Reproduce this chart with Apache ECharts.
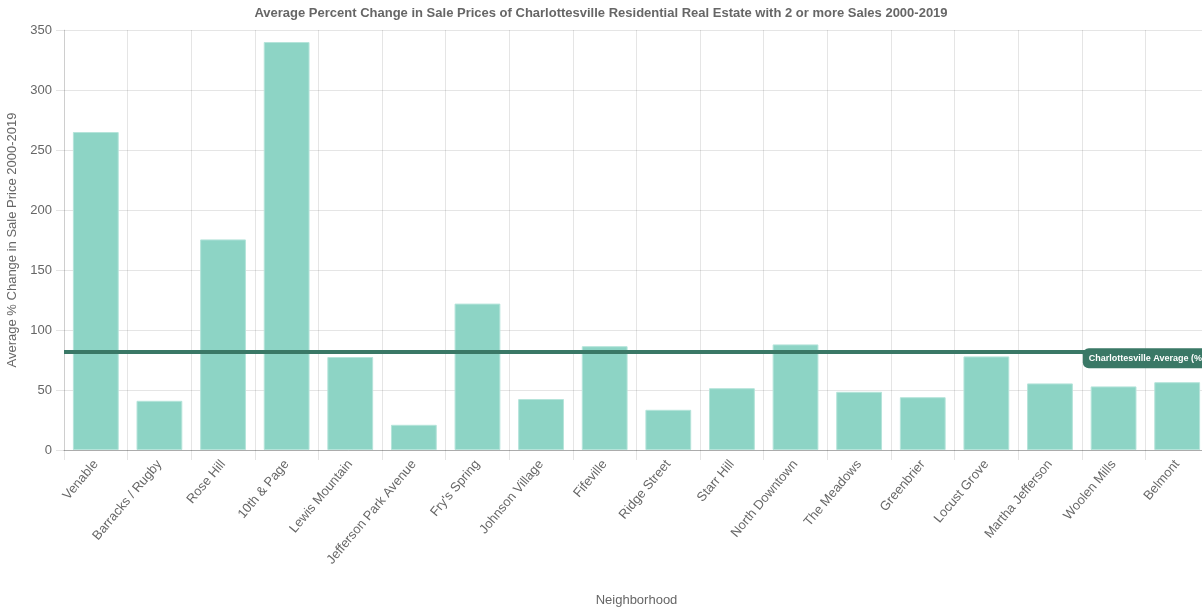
<!DOCTYPE html>
<html>
<head>
<meta charset="utf-8">
<title>Charlottesville Residential Sale Price Change</title>
<script src="https://cdn.jsdelivr.net/npm/echarts@6/dist/echarts.min.js"></script>
<style>
  html, body { margin: 0; padding: 0; background: #fff; }
  #chart { width: 1202px; height: 611px; }
</style>
</head>
<body>
<div id="chart"></div>
<script>
// Neighborhoods in display order
const neighborhoods = [
  'Venable', 'Barracks / Rugby', 'Rose Hill', '10th & Page', 'Lewis Mountain',
  'Jefferson Park Avenue', "Fry's Spring", 'Johnson Village', 'Fifeville',
  'Ridge Street', 'Starr Hill', 'North Downtown', 'The Meadows', 'Greenbrier',
  'Locust Grove', 'Martha Jefferson', 'Woolen Mills', 'Belmont'
];

// Average % change in sale price 2000-2019, per neighborhood
const pctChange = [
  265, 41, 175.5, 340, 77.5,
  21, 122, 42.5, 86.5,
  33.5, 51.5, 88, 48.5, 44,
  78, 55.5, 53, 56.5
];

// City-wide average (%)
const cityAverage = 81.5;
const cityAverageLabel = 'Charlottesville Average (%)';

// Value axis ticks
const yTicks = { min: 0, max: 350, interval: 50 };

const textColor = '#666';
const gridColor = 'rgba(0,0,0,0.1)';
const fontFamily = '"Liberation Sans", Arial, Helvetica, sans-serif';

const chart = echarts.init(document.getElementById('chart'));

chart.setOption({
  animation: false,
  textStyle: { fontFamily: fontFamily },
  title: {
    text: 'Average Percent Change in Sale Prices of Charlottesville Residential Real Estate with 2 or more Sales 2000-2019',
    left: 'center',
    top: 2,
    textStyle: { fontFamily: fontFamily, fontSize: 13, fontWeight: 'bold', color: textColor }
  },
  // the plot area runs slightly past the right edge of the page
  grid: { left: 64, right: -7, top: 30, bottom: 161, outerBoundsMode: 'none', containLabel: false },
  xAxis: {
    type: 'category',
    data: neighborhoods,
    name: 'Neighborhood',
    nameLocation: 'middle',
    nameGap: 144,
    nameTextStyle: { fontSize: 13, color: textColor },
    axisLine: { show: true, lineStyle: { color: 'rgba(0,0,0,0.25)', width: 1 } },
    axisTick: { show: true, length: 10, interval: 0, lineStyle: { color: gridColor } },
    splitLine: { show: true, interval: 0, lineStyle: { color: gridColor } },
    axisLabel: { interval: 0, rotate: 50, margin: 12, fontSize: 13, color: textColor }
  },
  yAxis: {
    type: 'value',
    min: yTicks.min,
    max: yTicks.max,
    interval: yTicks.interval,
    name: 'Average % Change in Sale Price 2000-2019',
    nameLocation: 'middle',
    nameGap: 45,
    nameTextStyle: { fontSize: 13, color: textColor },
    axisLine: { show: true, lineStyle: { color: gridColor } },
    axisTick: { show: true, length: 8, lineStyle: { color: gridColor } },
    splitLine: { show: true, lineStyle: { color: gridColor } },
    axisLabel: { margin: 12, fontSize: 13, color: textColor }
  },
  series: [{
    type: 'bar',
    data: pctChange,
    barWidth: '72%',
    itemStyle: {
      color: '#8dd4c5',
      borderColor: '#b5e4da',
      borderWidth: 1
    },
    markLine: {
      silent: true,
      symbol: 'none',
      data: [{ yAxis: cityAverage }],
      lineStyle: { type: 'solid', color: '#3a7866', width: 4 },
      label: {
        show: true,
        position: 'insideEnd',
        formatter: cityAverageLabel,
        color: '#fff',
        fontWeight: 'bold',
        fontSize: 9,
        backgroundColor: '#3a7866',
        borderRadius: 6,
        padding: [6, 6, 5, 6],
        offset: [7, 6]
      }
    }
  }]
});
</script>
</body>
</html>
